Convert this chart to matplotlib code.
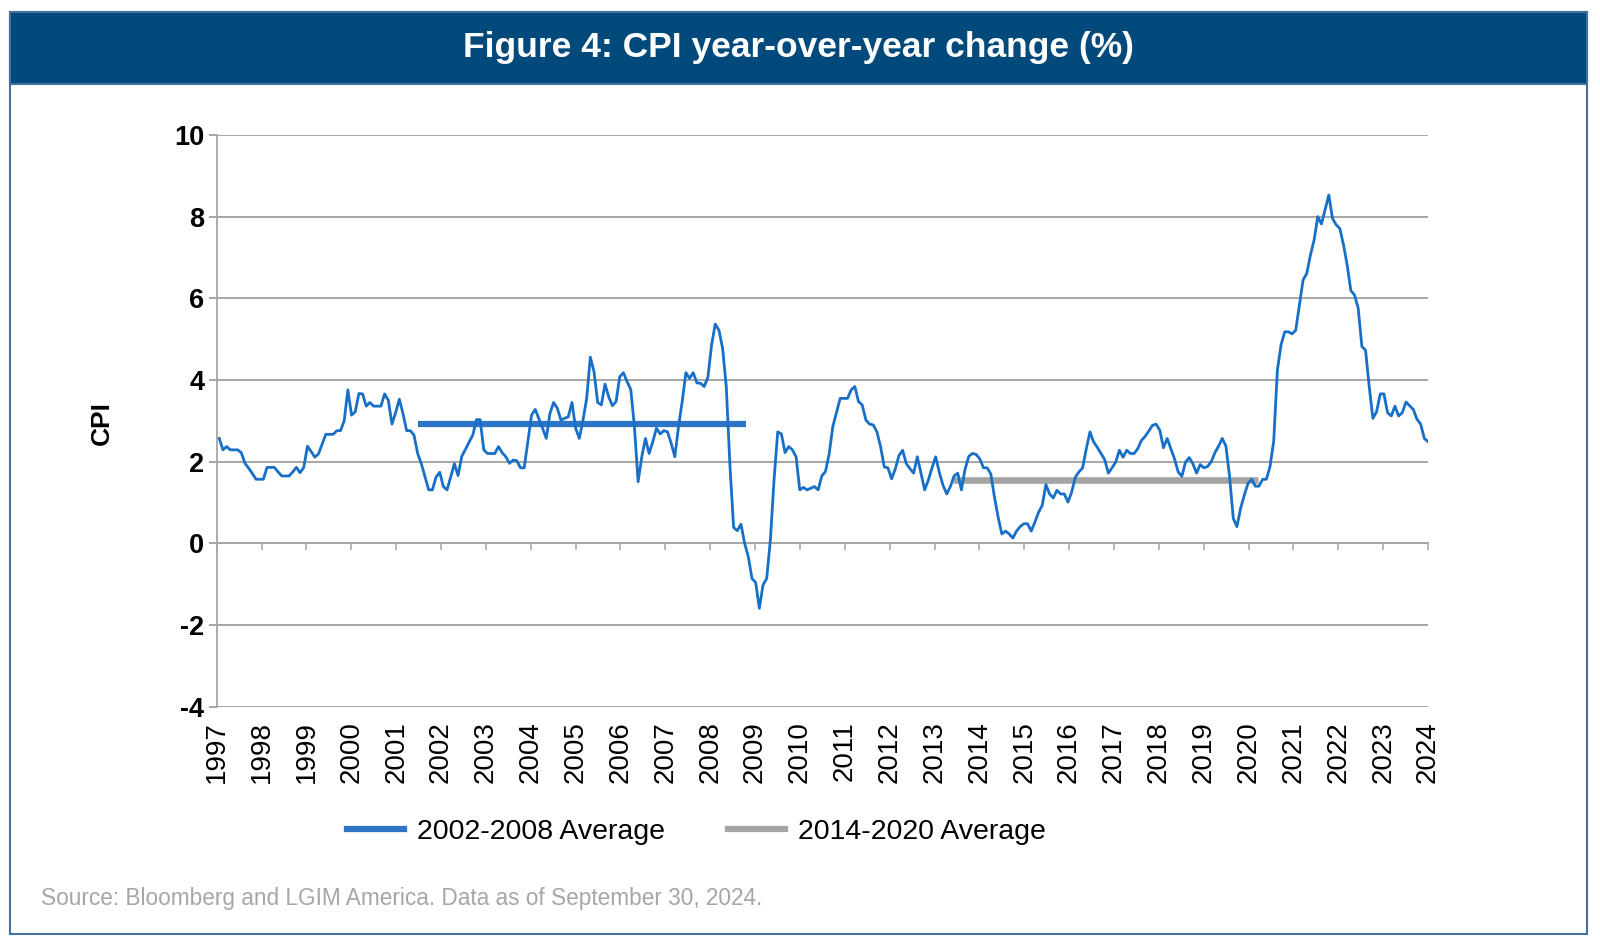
import numpy as np
import matplotlib
matplotlib.use("Agg")
import matplotlib.pyplot as plt
from matplotlib.patches import Rectangle
from matplotlib.lines import Line2D
import matplotlib.transforms as mtransforms

# monthly CPI y/y (%), Apr 1997 .. Sep 2024
cpi = [
    2.57, 2.29, 2.37, 2.29, 2.29, 2.29, 2.22, 1.96, 1.84, 1.71,
    1.57, 1.57, 1.57, 1.86, 1.86, 1.86, 1.75, 1.65, 1.65, 1.65,
    1.75, 1.86, 1.73, 1.86, 2.38, 2.25, 2.11, 2.19, 2.43, 2.67,
    2.67, 2.67, 2.76, 2.76, 3.00, 3.76, 3.14, 3.22, 3.67, 3.66,
    3.36, 3.45, 3.36, 3.36, 3.36, 3.66, 3.51, 2.92, 3.20, 3.53,
    3.18, 2.76, 2.76, 2.65, 2.20, 1.95, 1.63, 1.31, 1.31, 1.62,
    1.74, 1.39, 1.31, 1.63, 1.95, 1.66, 2.13, 2.30, 2.48, 2.65,
    3.03, 3.03, 2.29, 2.20, 2.20, 2.20, 2.37, 2.22, 2.12, 1.96,
    2.04, 2.02, 1.85, 1.85, 2.50, 3.14, 3.28, 3.05, 2.82, 2.57,
    3.18, 3.45, 3.31, 3.02, 3.06, 3.10, 3.45, 2.82, 2.57, 3.02,
    3.55, 4.56, 4.20, 3.45, 3.39, 3.90, 3.59, 3.37, 3.47, 4.08,
    4.18, 3.96, 3.77, 2.86, 1.51, 2.12, 2.57, 2.20, 2.49, 2.82,
    2.68, 2.76, 2.73, 2.45, 2.12, 2.86, 3.47, 4.18, 4.04, 4.18,
    3.93, 3.92, 3.84, 4.07, 4.86, 5.37, 5.22, 4.78, 3.84, 1.90,
    0.39, 0.31, 0.47, 0.00, -0.33, -0.86, -0.96, -1.59, -1.02, -0.86,
    0.08, 1.55, 2.73, 2.68, 2.22, 2.37, 2.29, 2.12, 1.31, 1.37,
    1.31, 1.35, 1.39, 1.31, 1.65, 1.76, 2.19, 2.86, 3.20, 3.55,
    3.55, 3.55, 3.76, 3.84, 3.47, 3.39, 3.02, 2.92, 2.90, 2.73,
    2.37, 1.87, 1.85, 1.58, 1.82, 2.15, 2.28, 1.95, 1.83, 1.72,
    2.12, 1.72, 1.31, 1.55, 1.85, 2.12, 1.73, 1.42, 1.21, 1.39,
    1.65, 1.72, 1.31, 1.82, 2.13, 2.20, 2.18, 2.07, 1.85, 1.85,
    1.70, 1.13, 0.64, 0.23, 0.30, 0.23, 0.13, 0.30, 0.41, 0.48,
    0.48, 0.30, 0.52, 0.76, 0.93, 1.44, 1.21, 1.11, 1.30, 1.21,
    1.21, 1.01, 1.25, 1.62, 1.75, 1.85, 2.32, 2.73, 2.48, 2.35,
    2.20, 2.05, 1.72, 1.85, 1.99, 2.28, 2.11, 2.28, 2.20, 2.20,
    2.32, 2.52, 2.62, 2.75, 2.89, 2.92, 2.77, 2.34, 2.57, 2.32,
    2.07, 1.75, 1.64, 1.99, 2.10, 1.95, 1.72, 1.93, 1.85, 1.88,
    2.00, 2.22, 2.38, 2.57, 2.38, 1.63, 0.61, 0.41, 0.86, 1.18,
    1.47, 1.57, 1.40, 1.40, 1.57, 1.57, 1.88, 2.50, 4.24, 4.86,
    5.18, 5.18, 5.13, 5.22, 5.84, 6.45, 6.61, 7.06, 7.43, 8.00,
    7.82, 8.18, 8.53, 7.96, 7.80, 7.71, 7.31, 6.82, 6.19, 6.08,
    5.76, 4.82, 4.73, 3.84, 3.06, 3.22, 3.66, 3.66, 3.20, 3.12,
    3.36, 3.12, 3.20, 3.46, 3.37, 3.28, 3.04, 2.92, 2.57, 2.49,
]

# horizontal average bars: (first month index, last month index, value)
avg_0208 = (54.2, 143.5, 2.92)
avg_1420 = (199.6, 282.8, 1.55)

years = [str(y) for y in range(1997, 2025)]
yticks = [-4, -2, 0, 2, 4, 6, 8, 10]

title = "Figure 4: CPI year-over-year change (%)"
source = "Source: Bloomberg and LGIM America. Data as of September 30, 2024."

FONT = ['Liberation Sans', 'DejaVu Sans']

LINE_BLUE = '#176fc8'
AVG_BLUE = '#2e75c5'
AVG_GRAY = '#a5a5a5'
GRID = '#a6a6a6'
HEADER = '#024a7c'
BORDER = '#41729f'

W, H = 1600, 948
fig = plt.figure(figsize=(W / 100, H / 100), dpi=100)
fig.patch.set_facecolor('white')

# card border and header band (kept behind the axes)
fig.patches.append(Rectangle((10.2 / W, 1 - 933.7 / H), (1587 - 10.2) / W, (933.7 - 12.2) / H,
                             transform=fig.transFigure, facecolor='white', edgecolor=BORDER,
                             linewidth=1.5, zorder=-10))
fig.patches.append(Rectangle((10.2 / W, 1 - 83.7 / H), (1587 - 10.2) / W, (83.7 - 12.2) / H,
                             transform=fig.transFigure, facecolor=HEADER, edgecolor=BORDER,
                             linewidth=1.5, zorder=-9))
fig.text(0.4991, 1 - 48 / H, title, color='white', fontsize=25.5, fontweight='bold',
         family=FONT, ha='center', va='center')

ax = fig.add_axes([216.7 / W, 1 - 706.7 / H, (1428 - 216.7) / W, (706.7 - 135) / H])
ax.set_facecolor('none')
ax.set_zorder(5)

x = np.arange(len(cpi))
xmin, xmax = -0.7, len(cpi) - 1

ax.plot([avg_0208[0], avg_0208[1]], [avg_0208[2]] * 2, color=AVG_BLUE, lw=4.5,
        solid_capstyle='butt', zorder=3)
ax.plot([avg_1420[0], avg_1420[1]], [avg_1420[2]] * 2, color=AVG_GRAY, lw=4.8,
        solid_capstyle='butt', zorder=3)
ax.plot(x, cpi, color=LINE_BLUE, lw=2.0, zorder=4, solid_joinstyle='round')

ax.set_xlim(xmin, xmax)
ax.set_ylim(-4, 10)
ax.set_yticks(yticks)
ax.set_yticklabels([str(v) for v in yticks], fontsize=19.5, fontweight='bold', family=FONT)
ax.yaxis.grid(True, color=GRID, lw=1.4)
ax.set_axisbelow(True)

tick_pos = np.linspace(xmin, xmax, len(years))
ax.set_xticks(tick_pos)
ax.set_xticklabels([])
ax.spines['bottom'].set_position(('data', 0))
ax.spines['bottom'].set_color(GRID)
ax.spines['bottom'].set_linewidth(1.4)
ax.spines['left'].set_color(GRID)
ax.spines['left'].set_linewidth(1.3)
ax.spines['top'].set_visible(False)
ax.spines['right'].set_visible(False)
ax.tick_params(axis='x', direction='out', length=4.8, width=1.1, color=GRID)
ax.tick_params(axis='y', direction='out', length=5.5, width=1.4, color=GRID, pad=3.5)

# year labels along the bottom edge
trans = mtransforms.blended_transform_factory(ax.transData, ax.transAxes)
for pos, yr in zip(tick_pos, years):
    ax.text(pos, -0.025, yr, transform=trans, rotation=90, ha='center', va='top',
            fontsize=20, family=FONT)

fig.text(102 / W, 1 - 423 / H, 'CPI', rotation=90, ha='center', va='center',
         fontsize=19, fontweight='bold', family=FONT)

handles = [Line2D([], [], color=AVG_BLUE, lw=4.5),
           Line2D([], [], color=AVG_GRAY, lw=4.5)]
fig.legend(handles, ['2002-2008 Average', '2014-2020 Average'], loc='center',
           bbox_to_anchor=(696.5 / W, 1 - 832 / H), ncol=2, frameon=False,
           prop={'family': FONT, 'size': 20.5}, handlelength=2.0,
           handletextpad=0.45, columnspacing=2.2)

fig.text(41 / W, 1 - 898 / H, source, color='#a6a6a6', fontsize=16.3, family=FONT,
         ha='left', va='center')

fig.savefig('out.png', dpi=100)
